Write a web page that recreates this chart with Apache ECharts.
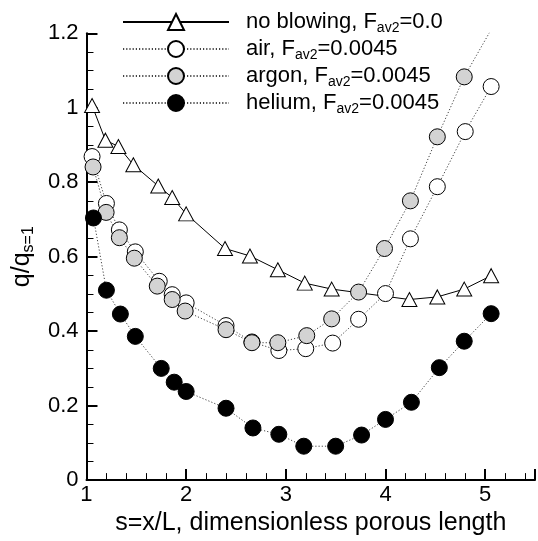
<!DOCTYPE html>
<html>
<head>
<meta charset="utf-8">
<script src="https://cdn.jsdelivr.net/npm/echarts@6/dist/echarts.min.js"></script>
<style>html,body{margin:0;padding:0;background:#fff;}#c{width:538px;height:541px;}</style>
</head>
<body>
<div id="c"></div>
<script>
// ---- data ----
const seriesNames = ['no blowing', 'air', 'argon', 'helium'];
const legendValues = ['0.0', '0.0045', '0.0045', '0.0045'];

const sNoBlow = [1.056, 1.19, 1.32, 1.47, 1.72, 1.86, 2.00, 2.39, 2.64, 2.92, 3.19, 3.46, 4.24, 4.52, 4.79, 5.06];
const qNoBlow = [1.006, 0.913, 0.896, 0.847, 0.790, 0.759, 0.715, 0.622, 0.602, 0.565, 0.529, 0.513, 0.485, 0.492, 0.513, 0.549];

const sAir = [1.056, 1.20, 1.33, 1.49, 1.73, 1.86, 2.00, 2.40, 2.66, 2.93, 3.20, 3.47, 3.73, 4.00, 4.25, 4.52, 4.80, 5.06];
const qAir = [0.869, 0.743, 0.672, 0.613, 0.534, 0.498, 0.476, 0.415, 0.371, 0.348, 0.353, 0.368, 0.432, 0.501, 0.648, 0.788, 0.936, 1.057];

const sArgon = [1.066, 1.197, 1.33, 1.48, 1.71, 1.86, 1.99, 2.40, 2.66, 2.92, 3.21, 3.46, 3.73, 3.99, 4.25, 4.52, 4.79, 5.06];
const qArgon = [0.841, 0.719, 0.651, 0.596, 0.521, 0.485, 0.454, 0.404, 0.369, 0.369, 0.388, 0.433, 0.505, 0.622, 0.750, 0.922, 1.083, 1.21];

const sHelium = [1.07, 1.20, 1.34, 1.49, 1.75, 1.88, 2.00, 2.40, 2.67, 2.93, 3.18, 3.50, 3.76, 4.00, 4.26, 4.54, 4.79, 5.06];
const qHelium = [0.704, 0.510, 0.446, 0.386, 0.300, 0.263, 0.238, 0.193, 0.140, 0.123, 0.091, 0.091, 0.121, 0.163, 0.209, 0.302, 0.373, 0.447];

const xTitle = 's=x/L, dimensionless porous length';
// --------------------------------------

function pairs(xs, ys) { return xs.map((x, i) => [x, ys[i]]); }
const FONT = 'Liberation Sans, Arial, sans-serif';

const chart = echarts.init(document.getElementById('c'), null, {renderer: 'canvas'});

const dotted = {color: '#444', width: 1, type: [1.2, 2]};

const option = {
  animation: false,
  backgroundColor: '#fff',
  textStyle: {fontFamily: FONT},
  grid: {left: 82.7, top: 33.3, bottom: 54.5, right: -1.5, containLabel: false},
  legend: {
    orient: 'vertical',
    left: 117,
    top: 4,
    itemWidth: 106,
    itemHeight: 20,
    itemGap: 1,
    data: seriesNames,
    formatter: function (name) {
      const i = seriesNames.indexOf(name);
      return '{m|' + name + ', F}{s|av2}{m|=' + legendValues[i] + '}';
    },
    textStyle: {
      fontFamily: FONT, color: '#000', padding: [0, 0, 0, 12],
      rich: {
        m: {fontSize: 22, fontFamily: FONT, color: '#000', lineHeight: 26},
        s: {fontSize: 14, fontFamily: FONT, color: '#000', padding: [12, 0, 0, 0], lineHeight: 26}
      }
    }
  },
  xAxis: {
    type: 'value', min: 1, max: 5.5, interval: 1,
    name: xTitle, nameLocation: 'middle', nameGap: 29,
    nameTextStyle: {fontSize: 25, fontFamily: FONT, color: '#000'},
    axisLine: {show: true, onZero: false, lineStyle: {color: '#000', width: 2}},
    axisTick: {show: true, inside: true, length: 11, lineStyle: {color: '#000', width: 2}},
    minorTick: {show: true, splitNumber: 5, length: 7, lineStyle: {color: '#000', width: 1}},
    axisLabel: {fontSize: 22, fontFamily: FONT, color: '#000', margin: 4,
      formatter: v => (v > 5.01 ? '' : String(v))},
    splitLine: {show: false}
  },
  yAxis: {
    type: 'value', min: 0, max: 1.2, interval: 0.2,
    name: '{m|q/q}{s|s=1}', nameLocation: 'middle', nameGap: 43, nameRotate: 90,
    nameTextStyle: {
      fontFamily: FONT, color: '#000',
      rich: {
        m: {fontSize: 25, fontFamily: FONT, color: '#000', lineHeight: 30},
        s: {fontSize: 16, fontFamily: FONT, color: '#000', padding: [13, 0, 0, 0], lineHeight: 30}
      }
    },
    axisLine: {show: true, onZero: false, lineStyle: {color: '#000', width: 2}},
    axisTick: {show: true, inside: true, length: 11, lineStyle: {color: '#000', width: 2}},
    minorTick: {show: true, splitNumber: 4, length: 7, lineStyle: {color: '#000', width: 1}},
    axisLabel: {fontSize: 22, fontFamily: FONT, color: '#000', margin: 8,
      formatter: v => String(Math.round(v * 10) / 10)},
    splitLine: {show: false}
  },
  series: [
    {
      name: seriesNames[0], type: 'line', data: pairs(sNoBlow, qNoBlow),
      symbol: 'triangle', symbolSize: [15, 14], showAllSymbol: true, clip: true,
      lineStyle: {color: '#000', width: 1},
      itemStyle: {color: '#fff', borderColor: '#000', borderWidth: 1}
    },
    {
      name: seriesNames[1], type: 'line', data: pairs(sAir, qAir),
      symbol: 'circle', symbolSize: 16, showAllSymbol: true, clip: true,
      lineStyle: dotted,
      itemStyle: {color: '#fff', borderColor: '#000', borderWidth: 1}
    },
    {
      name: seriesNames[2], type: 'line', data: pairs(sArgon, qArgon),
      symbol: 'circle', symbolSize: 16, showAllSymbol: true, clip: true,
      lineStyle: dotted,
      itemStyle: {color: '#d3d3d3', borderColor: '#000', borderWidth: 1}
    },
    {
      name: seriesNames[3], type: 'line', data: pairs(sHelium, qHelium),
      symbol: 'circle', symbolSize: 16, showAllSymbol: true, clip: true,
      lineStyle: dotted,
      itemStyle: {color: '#000', borderColor: '#000', borderWidth: 1}
    }
  ]
};
chart.setOption(option);
</script>
</body>
</html>
